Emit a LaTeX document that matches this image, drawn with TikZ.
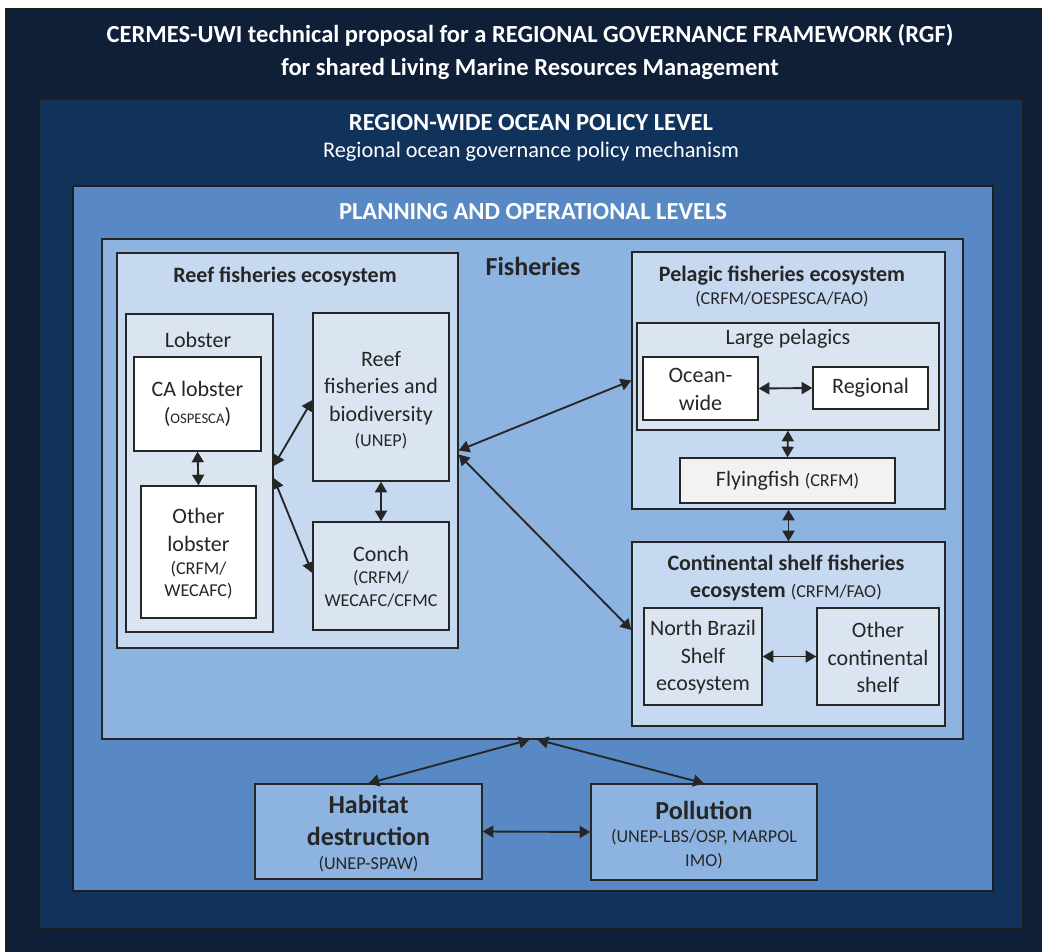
\documentclass[tikz,border=0pt]{standalone}
\usepackage{fontspec}
\setmainfont{Carlito}
\usetikzlibrary{arrows.meta,fit,calc}
\definecolor{cOuter}{HTML}{0F1F38}
\definecolor{cRegion}{HTML}{11325A}
\definecolor{cPlan}{HTML}{5889C5}
\definecolor{cFish}{HTML}{8DB3E1}
\definecolor{cEco}{HTML}{C6D9F0}
\definecolor{cInner}{HTML}{DBE5F1}
\definecolor{cFly}{HTML}{F2F2F2}
\definecolor{cLine}{HTML}{262626}
\definecolor{cText}{HTML}{262626}
\newcommand\fsT{\fontsize{18.4pt}{24.75pt}\selectfont}
\newcommand\fsB{\fontsize{16.5pt}{20.6pt}\selectfont}
\newcommand\fsR{\fontsize{16.75pt}{20.6pt}\selectfont}
\newcommand\fsS{\fontsize{13.6pt}{16.5pt}\selectfont}
\newcommand\fsX{\fontsize{11pt}{16.5pt}\selectfont}
\newcommand\fsL{\fontsize{19.5pt}{24pt}\selectfont}
\tikzset{
  bx/.style={draw=cLine, line width=1pt, inner sep=0pt},
  frame/.style={draw=cLine!80!black, line width=1.5pt, inner sep=0pt},
  lbl/.style={inner sep=0pt, align=center, text=cText},
  wlbl/.style={inner sep=0pt, align=center, text=white},
  arr/.style={{Triangle[length=8pt,width=9pt]}-{Triangle[length=8pt,width=9pt]}, line width=1.4pt, draw=cLine},
}
\begin{document}
\begin{tikzpicture}[x=0.75pt,y=-0.75pt]
\useasboundingbox (0,0) rectangle (1042,952);
\fill[white] (0,0) rectangle (1042,952);
% frames
\node[frame, fill=cOuter, fit={(6,9) (1045,955)}] (outer) {};
\node[frame, fill=cRegion, fit={(39,99) (1023,929)}] (region) {};
\node[frame, fill=cPlan, fit={(73,186) (993,891)}] (plan) {};
\node[bx, fill=cFish, fit={(102,239) (963,739)}] (fish) {};
% titles
\node[wlbl, font=\fsT\bfseries] (title) at (530,52) {CERMES-UWI technical proposal for a REGIONAL GOVERNANCE FRAMEWORK (RGF)\\for shared Living Marine Resources Management};
\node[wlbl, font=\fsT\bfseries] (regiont) at (531,123) {REGION-WIDE OCEAN POLICY LEVEL};
\node[wlbl, font=\fsR] (regions) at (531,152) {Regional ocean governance policy mechanism};
\node[wlbl, font=\fsT\bfseries] (plant) at (533,212) {PLANNING AND OPERATIONAL LEVELS};
\node[lbl, font=\fsL\bfseries] (fisht) at (533,266) {Fisheries};
% reef
\node[bx, fill=cEco, fit={(117,253) (458,648)}] (reef) {};
\node[lbl, font=\fsB\bfseries] (reeft) at (285,276) {Reef fisheries ecosystem};
\node[bx, fill=cInner, fit={(126,314) (273,632)}] (lobster) {};
\node[lbl, font=\fsB] (lobstert) at (198,340) {Lobster};
\node[bx, fill=white, fit={(134,357) (261,451)}] (calob) {};
\node[lbl, font=\fsB] (calobt) at (calob.center) {CA lobster\\({\fsX OSPESCA})};
\node[bx, fill=white, fit={(141,486) (256,618)}] (othlob) {};
\node[lbl, font=\fsB] (othlobt) at ($(othlob.center)+(0,2)$) {Other\\lobster\\[-3pt]{\fsS (CRFM/}\\[-4pt]{\fsS WECAFC)}};
\node[bx, fill=cInner, fit={(313,313) (449,481)}] (reefbio) {};
\node[lbl, font=\fsB] (reefbiot) at ($(reefbio.center)+(0,3)$) {Reef\\fisheries and\\biodiversity\\[-2pt]{\fsS (UNEP)}};
\node[bx, fill=cInner, fit={(313,522) (449,630)}] (conch) {};
\node[lbl, font=\fsB] (concht) at ($(conch.center)+(0,1)$) {Conch\\[-4.25pt]{\fsS (CRFM/}\\[-3.25pt]{\fsS WECAFC/CFMC}};
% pelagic
\node[bx, fill=cEco, fit={(632,252) (945,509)}] (pelagic) {};
\node[lbl, font=\fsB\bfseries] (pelagict) at (782,276) {Pelagic fisheries ecosystem};
\node[lbl, font=\fsS] (pelagics) at (782,299) {(CRFM/OESPESCA/FAO)};
\node[bx, fill=cInner, fit={(637,323) (939,430)}] (largepel) {};
\node[lbl, font=\fsB] (largepelt) at (788,339) {Large pelagics};
\node[bx, fill=white, fit={(643,357) (758,420)}] (ocean) {};
\node[lbl, font=\fsB] (oceant) at ($(ocean.center)+(0,1)$) {Ocean-\\wide};
\node[bx, fill=white, fit={(813,367) (928,409)}] (regional) {};
\node[lbl, font=\fsB] (regionalt) at (regional.center) {Regional};
\node[bx, fill=cFly, fit={(680,458) (895,503)}] (flying) {};
\node[lbl, font=\fsB] (flyingt) at (flying.center) {Flyingfish {\fsS (CRFM)}};
% continental
\node[bx, fill=cEco, fit={(632,542) (945,726)}] (cont) {};
\node[lbl, font=\fsB] (contt) at (786,578) {\textbf{Continental shelf fisheries}\\\textbf{ecosystem} {\fsS (CRFM/FAO)}};
\node[bx, fill=cInner, fit={(644,608) (762,705)}] (nbs) {};
\node[lbl, font=\fsB] (nbst) at ($(nbs.center)+(0,1)$) {North Brazil\\Shelf\\ecosystem};
\node[bx, fill=cInner, fit={(817,608) (939,705)}] (othcont) {};
\node[lbl, font=\fsB] (othcontt) at ($(othcont.center)+(0,1)$) {Other\\continental\\shelf};
% bottom
\node[bx, fill=cFish, fit={(255,784) (482,879)}] (habitat) {};
\node[lbl, font=\fsL\bfseries] (habitatt) at ($(habitat.center)+(0,2)$) {Habitat\\destruction\\[-5.5pt]{\fsS\mdseries (UNEP-SPAW)}};
\node[bx, fill=cFish, fit={(591,784) (817,880)}] (pollution) {};
\node[lbl, font=\fsL\bfseries] (pollutiont) at ($(pollution.center)+(0,3)$) {Pollution\\[-7.25pt]{\fsS\mdseries (UNEP-LBS/OSP, MARPOL}\\[-6pt]{\fsS\mdseries IMO)}};
% arrows
\draw[arr] (calob.south) -- (othlob.north);
\draw[arr] (reefbio.south) -- (conch.north);
\draw[arr] ($(lobster.east)+(0,-7)$) -- ($(reefbio.west)+(0,3)$);
\draw[arr] ($(lobster.east)+(0,5)$) -- ($(conch.west)+(0,-3)$);
\draw[arr] (reef.east) -- (pelagic.west);
\draw[arr] ($(reef.east)+(0,4)$) -- ($(cont.west)+(0,-4)$);
\draw[arr] (ocean.east) -- (regional.west);
\draw[arr] (largepel.south) -- (flying.north);
\draw[arr] (pelagic.south) -- (cont.north);
\draw[arr] (nbs.east) -- (othcont.west);
\draw[arr] (habitat.east) -- (pollution.west);
\draw[arr] ($(fish.south)+(-3,0)$) -- (habitat.north);
\draw[arr] ($(fish.south)+(5,0)$) -- (pollution.north);
\end{tikzpicture}
\end{document}
